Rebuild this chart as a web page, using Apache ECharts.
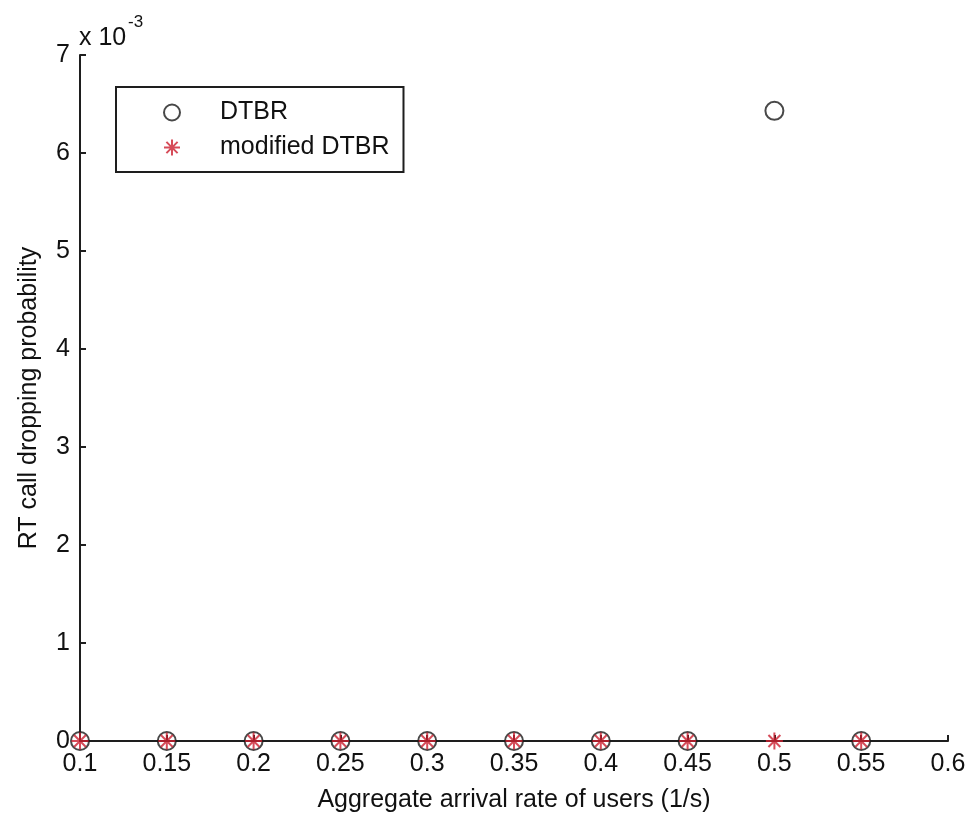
<!DOCTYPE html>
<html>
<head>
<meta charset="utf-8">
<style>
  html, body { margin: 0; padding: 0; background: #fff; }
  #chart { width: 970px; height: 819px; }
</style>
<script src="https://cdn.jsdelivr.net/npm/echarts@6/dist/echarts.min.js"></script>
</head>
<body>
<div id="chart"></div>
<script>
// Aggregate arrival rate of users (1/s)
const arrivalRates = [0.1, 0.15, 0.2, 0.25, 0.3, 0.35, 0.4, 0.45, 0.5, 0.55];
// RT call dropping probability per scheme
const dtbrValues = [0, 0, 0, 0, 0, 0, 0, 0, 0.00643, 0];
const modifiedDtbrValues = [0, 0, 0, 0, 0, 0, 0, 0, 0, 0];
const seriesNames = ['DTBR', 'modified DTBR'];

const FONT = '"Liberation Sans", Arial, sans-serif';
const AXIS_COLOR = '#1e1e1e';
const STAR_COLOR = '#cc1f30';
// MATLAB-style asterisk: plus sign overlaid with a cross
const ASTERISK = 'path://M10,0L10,20M0,10L20,10M3,3L17,17M3,17L17,3';

const pairs = (xs, ys) => xs.map((x, i) => [x, ys[i]]);

const chart = echarts.init(document.getElementById('chart'));
chart.setOption({
  animation: false,
  backgroundColor: '#ffffff',
  textStyle: { fontFamily: FONT },
  grid: { left: 80, right: 22, top: 55, bottom: 78, containLabel: false },
  xAxis: {
    type: 'value',
    min: 0.1,
    max: 0.6,
    interval: 0.05,
    name: 'Aggregate arrival rate of users (1/s)',
    nameLocation: 'middle',
    nameGap: 47,
    nameTextStyle: { fontSize: 25, color: '#111', fontFamily: FONT },
    axisLine: { show: true, onZero: false, lineStyle: { color: AXIS_COLOR, width: 2 } },
    axisTick: { show: true, inside: true, length: 6, lineStyle: { color: AXIS_COLOR, width: 2 } },
    axisLabel: {
      margin: 11,
      fontSize: 25,
      color: '#111',
      fontFamily: FONT,
      formatter: v => String(parseFloat(v.toFixed(2)))
    },
    splitLine: { show: false }
  },
  yAxis: {
    type: 'value',
    min: 0,
    max: 0.007,
    interval: 0.001,
    name: 'RT call dropping probability',
    nameLocation: 'middle',
    nameGap: 38,
    nameTextStyle: { fontSize: 25, color: '#111', fontFamily: FONT },
    axisLine: { show: true, onZero: false, lineStyle: { color: AXIS_COLOR, width: 2 } },
    axisTick: { show: true, inside: true, length: 6, lineStyle: { color: AXIS_COLOR, width: 2 } },
    axisLabel: {
      margin: 10,
      fontSize: 25,
      color: '#111',
      fontFamily: FONT,
      formatter: v => String(Math.round(v * 1000))
    },
    splitLine: { show: false }
  },
  legend: {
    orient: 'vertical',
    left: 116,
    top: 87,
    data: seriesNames,
    backgroundColor: '#ffffff',
    borderColor: AXIS_COLOR,
    borderWidth: 2,
    padding: [13, 14, 12, 47],
    itemWidth: 86,
    itemHeight: 16,
    itemGap: 10,
    textStyle: { fontSize: 25, color: '#111', fontFamily: FONT, lineHeight: 23 }
  },
  graphic: [
    {
      type: 'text',
      left: 79,
      top: 26,
      style: { text: 'x 10', font: '25px ' + FONT, fill: '#111' }
    },
    {
      type: 'text',
      left: 128,
      top: 14,
      style: { text: '-3', font: '17px ' + FONT, fill: '#111' }
    }
  ],
  series: [
    {
      name: seriesNames[0],
      type: 'scatter',
      data: pairs(arrivalRates, dtbrValues),
      symbol: 'circle',
      symbolSize: 18,
      clip: false,
      itemStyle: { color: 'rgba(0,0,0,0)', borderColor: '#1a1a1a', borderWidth: 2 },
      z: 3
    },
    {
      name: seriesNames[1],
      type: 'scatter',
      data: pairs(arrivalRates, modifiedDtbrValues),
      symbol: ASTERISK,
      symbolSize: 17,
      clip: false,
      itemStyle: { color: 'rgba(0,0,0,0)', borderColor: STAR_COLOR, borderWidth: 2 },
      z: 4
    }
  ]
});
</script>
</body>
</html>
